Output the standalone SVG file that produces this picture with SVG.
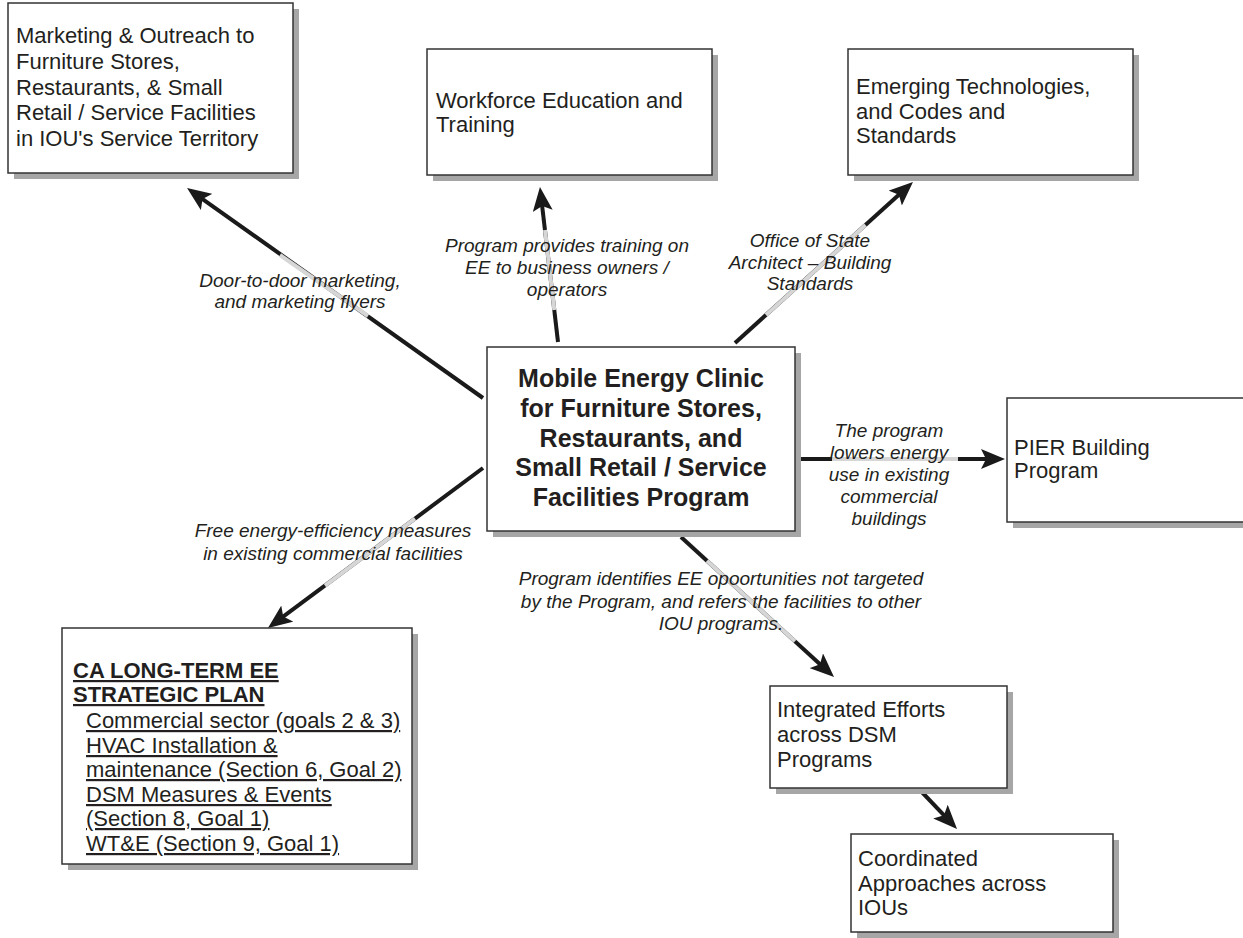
<svg xmlns="http://www.w3.org/2000/svg" width="1243" height="938" viewBox="0 0 1243 938">
<style>
.sh{fill:#a6a6a6;stroke:none}
.bx{fill:#fff;stroke:#333;stroke-width:1.5}
.t{font-family:"Liberation Sans",Arial,sans-serif;font-size:22px;fill:#231f20}
.b{font-family:"Liberation Sans",Arial,sans-serif;font-size:25px;font-weight:bold;fill:#231f20}
.bs{font-family:"Liberation Sans",Arial,sans-serif;font-size:22px;font-weight:bold;fill:#231f20;text-decoration:underline}
.u{text-decoration:underline}
.lb{font-family:"Liberation Sans",Arial,sans-serif;font-size:19px;font-style:italic;fill:#231f20;text-anchor:middle}
.ln{stroke:#1a1a1a;stroke-width:4;fill:none}
.gr{stroke:#d6d6d6;stroke-width:4;fill:none}
</style>
<defs>
<marker id="ah" viewBox="0 0 24 20" refX="8" refY="10" markerWidth="24" markerHeight="20" markerUnits="userSpaceOnUse" orient="auto">
<path d="M0,0 L24,10 L0,20 L5,10 z" fill="#1a1a1a"/>
</marker>
</defs>
<rect width="1243" height="938" fill="#fff"/>

<g id="connectors">
<line class="ln" x1="483" y1="398" x2="200.1" y2="197.3" marker-end="url(#ah)"/>
<line class="ln" x1="558" y1="342" x2="541.8" y2="202.9" marker-end="url(#ah)"/>
<line class="ln" x1="735" y1="343" x2="901.1" y2="192.7" marker-end="url(#ah)"/>
<line class="ln" x1="801" y1="459" x2="989" y2="459" marker-end="url(#ah)"/>
<line class="ln" x1="483" y1="468" x2="280.8" y2="618.4" marker-end="url(#ah)"/>
<line class="ln" x1="681" y1="537" x2="822.2" y2="666.2" marker-end="url(#ah)"/>
<line class="ln" x1="918" y1="788" x2="946" y2="817.4" marker-end="url(#ah)"/>
<line class="gr" x1="280" y1="255" x2="368" y2="316"/>
<line class="gr" x1="545" y1="230" x2="554.3" y2="310"/>
<line class="gr" x1="766" y1="315" x2="865.5" y2="225"/>
<line class="gr" x1="832" y1="459" x2="958" y2="459"/>
<line class="gr" x1="415" y1="518.6" x2="325" y2="585.6"/>
<line class="gr" x1="707" y1="560.8" x2="795" y2="641.3"/>
<text class="lb"><tspan x="300" y="287">Door-to-door marketing,</tspan><tspan x="300" y="308">and marketing flyers</tspan></text>
<text class="lb"><tspan x="567" y="252">Program provides training on</tspan><tspan x="567" y="274">EE to business owners /</tspan><tspan x="567" y="296">operators</tspan></text>
<text class="lb"><tspan x="810" y="247">Office of State</tspan><tspan x="810" y="269">Architect – Building</tspan><tspan x="810" y="290">Standards</tspan></text>
<text class="lb"><tspan x="889" y="437">The program</tspan><tspan x="889" y="459">lowers energy</tspan><tspan x="889" y="481">use in existing</tspan><tspan x="889" y="503">commercial</tspan><tspan x="889" y="525">buildings</tspan></text>
<text class="lb"><tspan x="333" y="537">Free energy-efficiency measures</tspan><tspan x="333" y="560">in existing commercial facilities</tspan></text>
<text class="lb"><tspan x="721" y="585">Program identifies EE opoortunities not targeted</tspan><tspan x="721" y="608">by the Program, and refers the facilities to other</tspan><tspan x="721" y="630">IOU programs.</tspan></text>
</g>

<g id="marketing">
<rect class="sh" x="14" y="9" width="285" height="170"/>
<rect class="bx" x="8" y="3" width="285" height="170"/>
<text class="t"><tspan x="16" y="43">Marketing &amp; Outreach to</tspan><tspan x="16" y="69">Furniture Stores,</tspan><tspan x="16" y="94.5">Restaurants, &amp; Small</tspan><tspan x="16" y="120">Retail / Service Facilities</tspan><tspan x="16" y="146">in IOU's Service Territory</tspan></text>
</g>

<g id="workforce">
<rect class="sh" x="433" y="55" width="285" height="126"/>
<rect class="bx" x="427" y="49" width="285" height="126"/>
<text class="t"><tspan x="436" y="108">Workforce Education and</tspan><tspan x="436" y="132">Training</tspan></text>
</g>

<g id="emerging">
<rect class="sh" x="854" y="55" width="285" height="126"/>
<rect class="bx" x="848" y="49" width="285" height="126"/>
<text class="t"><tspan x="856" y="94">Emerging Technologies,</tspan><tspan x="856" y="118.5">and Codes and</tspan><tspan x="856" y="143">Standards</tspan></text>
</g>

<g id="center">
<rect class="sh" x="493" y="353" width="308" height="184"/>
<rect class="bx" x="487" y="347" width="308" height="184"/>
<text class="b" text-anchor="middle"><tspan x="641" y="387">Mobile Energy Clinic</tspan><tspan x="641" y="417">for Furniture Stores,</tspan><tspan x="641" y="447">Restaurants, and</tspan><tspan x="641" y="476">Small Retail / Service</tspan><tspan x="641" y="506">Facilities Program</tspan></text>
</g>

<g id="pier">
<rect class="sh" x="1013" y="404" width="245" height="124"/>
<rect class="bx" x="1007" y="398" width="245" height="124"/>
<text class="t"><tspan x="1014" y="455">PIER Building</tspan><tspan x="1014" y="478">Program</tspan></text>
</g>

<g id="plan">
<rect class="sh" x="68" y="634" width="350" height="236"/>
<rect class="bx" x="62" y="628" width="350" height="236"/>
<text class="bs"><tspan x="73" y="678">CA LONG-TERM EE</tspan><tspan x="73" y="702">STRATEGIC PLAN</tspan></text>
<text class="t u"><tspan x="86" y="728">Commercial sector (goals 2 &amp; 3)</tspan><tspan x="86" y="753">HVAC Installation &amp;</tspan><tspan x="86" y="777">maintenance (Section 6, Goal 2)</tspan><tspan x="86" y="802">DSM Measures &amp; Events</tspan><tspan x="86" y="826">(Section 8, Goal 1)</tspan><tspan x="86" y="851">WT&amp;E (Section 9, Goal 1)</tspan></text>
</g>

<g id="integrated">
<rect class="sh" x="776" y="692" width="237" height="102"/>
<rect class="bx" x="770" y="686" width="237" height="102"/>
<text class="t"><tspan x="777" y="717">Integrated Efforts</tspan><tspan x="777" y="742">across DSM</tspan><tspan x="777" y="767">Programs</tspan></text>
</g>

<g id="coordinated">
<rect class="sh" x="857" y="840" width="262" height="98"/>
<rect class="bx" x="851" y="834" width="262" height="98"/>
<text class="t"><tspan x="858" y="866">Coordinated</tspan><tspan x="858" y="891">Approaches across</tspan><tspan x="858" y="915">IOUs</tspan></text>
</g>
</svg>
